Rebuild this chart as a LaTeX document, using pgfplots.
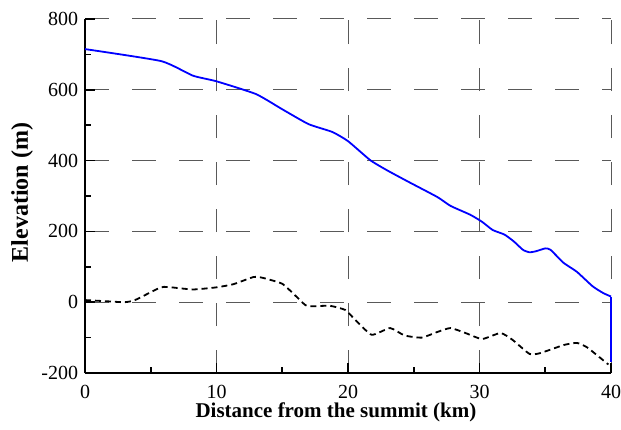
\documentclass[border=0pt]{standalone}
\usepackage{fontspec}
\setmainfont{Liberation Serif}
\usepackage{pgfplots}
\pgfplotsset{compat=1.18}
\begin{document}
\fontsize{20}{22}\selectfont
\begin{tikzpicture}
\begin{axis}[
 scale only axis, width=526pt, height=354pt,
 xmin=0, xmax=40, ymin=-200, ymax=800,
 axis x line=bottom, axis y line=left,
 axis line style={-, line width=1.6pt},
 xtick={0,10,...,40}, ytick={-200,0,...,800},
 minor xtick={5,15,25,35}, minor ytick={-100,100,300,500,700},
 tick align=inside, major tick length=10pt, minor tick length=6pt,
 every tick/.style={black, line width=1.6pt},
 grid=major,
 major grid style={dash pattern=on 23.5pt off 23.5pt, black!65, line width=1pt},
 xlabel={\textbf{Distance from the summit (km)}},
 ylabel={\textbf{Elevation (m)}},
 xlabel style={font=\fontsize{21}{23}\selectfont, at={(axis description cs:0.477,-0.127)}, anchor=base},
 ylabel style={font=\fontsize{24}{26}\selectfont, at={(axis description cs:-0.1084,0.51)}, rotate=0, anchor=base},
 ticklabel style={font=\fontsize{20}{22}\selectfont},
 xticklabel style={anchor=base, yshift=-25.5pt},
 /pgf/number format/assume math mode=true,
 clip=false,
]
\addplot[blue, line width=1.8pt, smooth, tension=0.3] coordinates {
(0,715) (5.8,681) (8.2,640) (10,624) (13,588) (15,545) (17,503) (18.8,481)
(20,455) (21.7,401) (23,372) (24.6,340) (26.8,297) (27.8,272) (29.3,247)
(30.2,227) (31,204) (31.9,191) (32.6,172) (33.3,148) (33.8,141) (34.3,144)
(35,152) (35.4,148) (36.4,111) (37.4,86) (38.6,45) (39.4,26) (40,16)
};
\addplot[blue, line width=1.8pt] coordinates {(40,16) (40,-170)};
\addplot[black, line width=1.8pt, dash pattern=on 6pt off 4pt, smooth, tension=0.3] coordinates {
(0,6) (1.5,3) (3,0) (3.8,6) (5.7,41) (6.3,43) (8.2,36) (10,42) (11.3,51)
(12.8,71) (13.5,69) (15,52) (16.1,15) (16.9,-11) (18.6,-10) (19.8,-22)
(20.5,-48) (21.8,-92) (23.2,-73) (24.3,-94) (25.6,-100) (26.8,-84)
(27.8,-73) (29,-88) (30.2,-104) (31.6,-87) (32.5,-106) (33.8,-146)
(34.6,-144) (36.4,-121) (37.4,-115) (38.2,-128) (39.8,-176)
};
\end{axis}
\pgfresetboundingbox
\path[use as bounding box] ([shift={(-85pt,-56pt)}]current axis.south west) rectangle ([shift={(10pt,19pt)}]current axis.north east);
\end{tikzpicture}
\end{document}
